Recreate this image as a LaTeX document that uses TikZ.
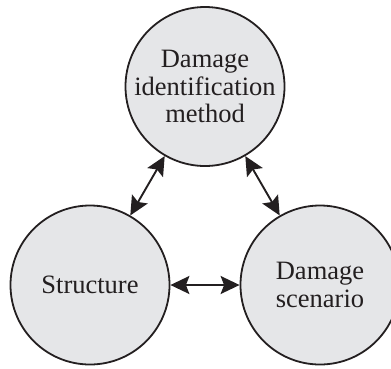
\documentclass[tikz,border=0pt]{standalone}
\usepackage{fontspec}
\setmainfont{Liberation Serif}
\usetikzlibrary{arrows.meta}
\definecolor{discfill}{RGB}{229,230,232}
\definecolor{ink}{RGB}{35,31,32}
\begin{document}
\begin{tikzpicture}[x=1pt,y=-1pt,
  disc/.style={circle, draw=ink, line width=1.8pt, fill=discfill,
    minimum size=159pt, inner sep=0pt, align=center, text=ink,
    font=\fontsize{26.5}{27.5}\selectfont},
  link/.style={draw=ink, line width=1.9pt,
    {Stealth[length=19pt,width=18pt,inset=3.5pt]}-{Stealth[length=19pt,width=18pt,inset=3.5pt]}}]
  \useasboundingbox (0,0) rectangle (391,368);
  % three linked components
  \node[disc] (method) at (205,86.5) {Damage\\identification\\method};
  \node[disc] (structure) at (90,285) {Structure};
  \node[disc] (scenario) at (320,285) {Damage\\scenario};
  % two-way relations between them
  \draw[link] (method) -- (structure);
  \draw[link] (method) -- (scenario);
  \draw[link] (structure) -- (scenario);
\end{tikzpicture}
\end{document}
